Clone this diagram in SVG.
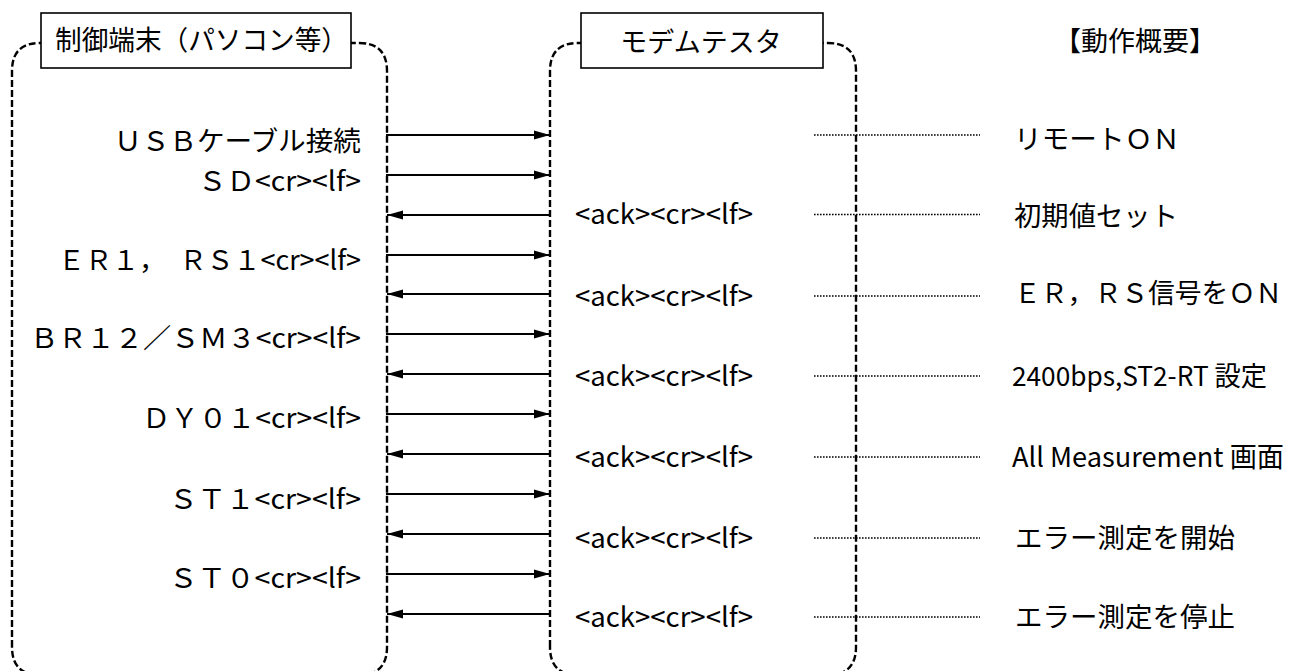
<svg xmlns="http://www.w3.org/2000/svg" width="1291" height="671" viewBox="0 0 1291 671">
<style>
text{font-family:"Noto Sans CJK JP","Noto Sans",sans-serif;font-size:27px;fill:#000}
.lane{fill:none;stroke:#000;stroke-width:2.4;stroke-dasharray:7 3}
.title{fill:#fff;stroke:#000;stroke-width:1.6}
.msg{stroke:#000;stroke-width:2;fill:none;marker-end:url(#ah)}
.dot{stroke:#000;stroke-width:1.6;stroke-dasharray:1.6 1.4;fill:none}
</style>
<defs>
<marker id="ah" markerUnits="userSpaceOnUse" markerWidth="16" markerHeight="10" refX="16" refY="5" orient="auto">
<path d="M0,0.5 L16,5 L0,9.5 z" fill="#000"/>
</marker>
</defs>
<rect width="1291" height="671" fill="#fff"/>

<g id="terminal">
<path class="lane" d="M12,647 L12,71 Q12,43 40,43 L359,43 Q387,43 387,71 L387,647 Q387,675 359,675 L40,675 Q12,675 12,647 Z"/>
<rect class="title" x="41" y="13" width="310" height="55"/>
<text x="55" y="50" textLength="293" lengthAdjust="spacingAndGlyphs">制御端末（パソコン等）</text>
</g>

<g id="tester">
<path class="lane" d="M550,647 L550,71 Q550,43 578,43 L828,43 Q856,43 856,71 L856,647 Q856,675 828,675 L578,675 Q550,675 550,647 Z"/>
<rect class="title" x="581" y="13" width="242" height="55"/>
<text x="701" y="52" text-anchor="middle">モデムテスタ</text>
</g>

<g id="summary-header">
<text x="1135" y="51" text-anchor="middle">【動作概要】</text>
</g>

<g id="connectors">
<line class="msg" x1="386" y1="135" x2="550" y2="135"/>
<line class="msg" x1="386" y1="175" x2="550" y2="175"/>
<line class="msg" x1="550" y1="215" x2="387" y2="215"/>
<line class="msg" x1="386" y1="255" x2="550" y2="255"/>
<line class="msg" x1="550" y1="294" x2="387" y2="294"/>
<line class="msg" x1="386" y1="334" x2="550" y2="334"/>
<line class="msg" x1="550" y1="374" x2="387" y2="374"/>
<line class="msg" x1="386" y1="414" x2="550" y2="414"/>
<line class="msg" x1="550" y1="454" x2="387" y2="454"/>
<line class="msg" x1="386" y1="494" x2="550" y2="494"/>
<line class="msg" x1="550" y1="534" x2="387" y2="534"/>
<line class="msg" x1="386" y1="574" x2="550" y2="574"/>
<line class="msg" x1="550" y1="614" x2="387" y2="614"/>
<line class="dot" x1="814" y1="135" x2="980" y2="135"/>
<line class="dot" x1="814" y1="214.5" x2="980" y2="214.5"/>
<line class="dot" x1="814" y1="296" x2="980" y2="296"/>
<line class="dot" x1="814" y1="376" x2="980" y2="376"/>
<line class="dot" x1="814" y1="457" x2="980" y2="457"/>
<line class="dot" x1="814" y1="538" x2="980" y2="538"/>
<line class="dot" x1="814" y1="617" x2="980" y2="617"/>
</g>

<g id="terminal-labels">
<text x="114" y="151" textLength="247" lengthAdjust="spacingAndGlyphs">ＵＳＢケーブル接続</text>
<text x="198" y="191" textLength="163" lengthAdjust="spacingAndGlyphs">ＳＤ&lt;cr&gt;&lt;lf&gt;</text>
<text x="58" y="270" textLength="303" lengthAdjust="spacingAndGlyphs">ＥＲ１，　ＲＳ１&lt;cr&gt;&lt;lf&gt;</text>
<text x="30" y="348" textLength="331" lengthAdjust="spacingAndGlyphs">ＢＲ１２／ＳＭ３&lt;cr&gt;&lt;lf&gt;</text>
<text x="142" y="428" textLength="219" lengthAdjust="spacingAndGlyphs">ＤＹ０１&lt;cr&gt;&lt;lf&gt;</text>
<text x="169" y="509" textLength="192" lengthAdjust="spacingAndGlyphs">ＳＴ１&lt;cr&gt;&lt;lf&gt;</text>
<text x="169" y="588" textLength="192" lengthAdjust="spacingAndGlyphs">ＳＴ０&lt;cr&gt;&lt;lf&gt;</text>
</g>

<g id="tester-labels">
<text x="575" y="224" textLength="178" lengthAdjust="spacingAndGlyphs">&lt;ack&gt;&lt;cr&gt;&lt;lf&gt;</text>
<text x="575" y="306" textLength="178" lengthAdjust="spacingAndGlyphs">&lt;ack&gt;&lt;cr&gt;&lt;lf&gt;</text>
<text x="575" y="386" textLength="178" lengthAdjust="spacingAndGlyphs">&lt;ack&gt;&lt;cr&gt;&lt;lf&gt;</text>
<text x="575" y="467" textLength="178" lengthAdjust="spacingAndGlyphs">&lt;ack&gt;&lt;cr&gt;&lt;lf&gt;</text>
<text x="575" y="548" textLength="178" lengthAdjust="spacingAndGlyphs">&lt;ack&gt;&lt;cr&gt;&lt;lf&gt;</text>
<text x="575" y="627" textLength="178" lengthAdjust="spacingAndGlyphs">&lt;ack&gt;&lt;cr&gt;&lt;lf&gt;</text>
</g>

<g id="summary-labels">
<text x="1014" y="149" textLength="166" lengthAdjust="spacingAndGlyphs">リモートＯＮ</text>
<text x="1014" y="226" textLength="164" lengthAdjust="spacingAndGlyphs">初期値セット</text>
<text x="1014" y="303" textLength="268" lengthAdjust="spacingAndGlyphs">ＥＲ，ＲＳ信号をＯＮ</text>
<text x="1012" y="386" textLength="255" lengthAdjust="spacingAndGlyphs">2400bps,ST2-RT 設定</text>
<text x="1012" y="467" textLength="272" lengthAdjust="spacingAndGlyphs">All Measurement 画面</text>
<text x="1015" y="548" textLength="220" lengthAdjust="spacingAndGlyphs">エラー測定を開始</text>
<text x="1015" y="627" textLength="220" lengthAdjust="spacingAndGlyphs">エラー測定を停止</text>
</g>
</svg>
